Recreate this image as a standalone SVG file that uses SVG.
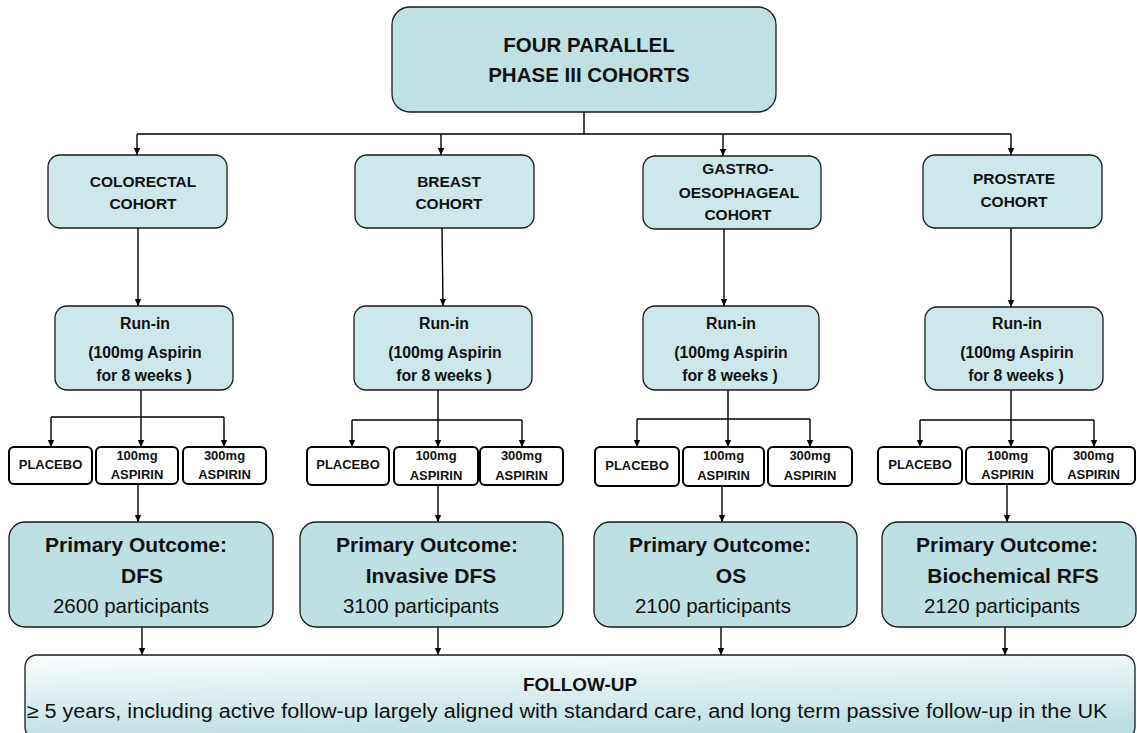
<svg xmlns="http://www.w3.org/2000/svg" width="1137" height="733" viewBox="0 0 1137 733">
<defs>
<marker id="ah" markerWidth="8" markerHeight="8" refX="7" refY="4" orient="auto" markerUnits="userSpaceOnUse">
<path d="M0,0.8 L7,4 L0,7.2 Z" fill="#000"/>
</marker>
<linearGradient id="fu" x1="0" y1="0" x2="0.2" y2="1">
<stop offset="0" stop-color="#fbfdfd"/>
<stop offset="1" stop-color="#bcdfe2"/>
</linearGradient>
<style>
.box{fill:#cce8ea;stroke:#1a1a1a;stroke-width:1.3}
.top{fill:#bfe1e4;stroke:#1a1a1a;stroke-width:1.3}
.prim{fill:#bde0e3;stroke:#1a1a1a;stroke-width:1.3}
.arm{fill:#fff;stroke:#000;stroke-width:2}
.fu{fill:url(#fu);stroke:#1a1a1a;stroke-width:1.3}
text{font-family:"Liberation Sans",Arial,Helvetica,sans-serif;fill:#111;text-anchor:middle}
.t1{font-size:20.5px;font-weight:bold}
.tc{font-size:15.5px;font-weight:bold}
.tr{font-size:15.8px;font-weight:bold}
.ta{font-size:13px;font-weight:bold}
.tp{font-size:21px;font-weight:bold}
.tn{font-size:20.5px}
.tf{font-size:18px;font-weight:bold}
.tl{font-size:20px}
.c{fill:none;stroke:#000;stroke-width:1.4}
.ca{fill:none;stroke:#000;stroke-width:1.4;marker-end:url(#ah)}
</style>
</defs>

<g id="connectors">
<path class="c" d="M584,112 V134 M137,134 H1011"/>
<path class="ca" d="M137,134 V155"/>
<path class="ca" d="M441,134 V155"/>
<path class="ca" d="M723,134 V156"/>
<path class="ca" d="M1011,134 V155"/>
<path class="ca" d="M138,228 V306"/>
<path class="c" d="M141,390 V417 M51,417 H224"/>
<path class="ca" d="M51,417 V447"/>
<path class="ca" d="M141,417 V447"/>
<path class="ca" d="M224,417 V447"/>
<path class="ca" d="M138,484 V522"/>
<path class="ca" d="M142,627 V655"/>
<path class="ca" d="M442,228 L443,306"/>
<path class="c" d="M438,390 V420 M352,420 H522"/>
<path class="ca" d="M352,420 V447"/>
<path class="ca" d="M438,420 V447"/>
<path class="ca" d="M522,420 V447"/>
<path class="ca" d="M438,485 V522"/>
<path class="ca" d="M438,627 V655"/>
<path class="ca" d="M724,229 V306"/>
<path class="c" d="M728,390 V419 M637,419 H810"/>
<path class="ca" d="M637,419 V447"/>
<path class="ca" d="M728,419 V447"/>
<path class="ca" d="M810,419 V447"/>
<path class="ca" d="M722,486 V522"/>
<path class="ca" d="M721,627 V655"/>
<path class="ca" d="M1011,228 V307"/>
<path class="c" d="M1011,390 V420 M920,420 H1094"/>
<path class="ca" d="M920,420 V447"/>
<path class="ca" d="M1011,420 V447"/>
<path class="ca" d="M1094,420 V447"/>
<path class="ca" d="M1007,484 V522"/>
<path class="ca" d="M1005,627 V655"/>
</g>

<g id="top">
<rect class="top" x="392" y="7" width="384" height="105" rx="18"/>
<text class="t1" x="589" y="52">FOUR PARALLEL</text>
<text class="t1" x="589" y="82">PHASE III COHORTS</text>
</g>

<g id="cohort-colorectal">
<rect class="box" x="48" y="155" width="179" height="73" rx="12"/>
<text class="tc" x="143" y="186.5">COLORECTAL</text>
<text class="tc" x="143" y="208.5">COHORT</text>
</g>
<g id="cohort-breast">
<rect class="box" x="355" y="155" width="179" height="73" rx="12"/>
<text class="tc" x="449" y="186.5">BREAST</text>
<text class="tc" x="449" y="208.5">COHORT</text>
</g>
<g id="cohort-gastro">
<rect class="box" x="643" y="156" width="178" height="73" rx="12"/>
<text class="tc" x="738" y="173.5">GASTRO-</text>
<text class="tc" x="739" y="197.5">OESOPHAGEAL</text>
<text class="tc" x="738" y="219.5">COHORT</text>
</g>
<g id="cohort-prostate">
<rect class="box" x="923" y="155" width="179" height="73" rx="12"/>
<text class="tc" x="1014" y="183.5">PROSTATE</text>
<text class="tc" x="1014" y="206.5">COHORT</text>
</g>

<g id="runin-1">
<rect class="box" x="55" y="306" width="178" height="84" rx="12"/>
<text class="tr" x="145" y="329">Run-in</text>
<text class="tr" x="145" y="358">(100mg Aspirin</text>
<text class="tr" x="144" y="381">for 8 weeks )</text>
</g>
<g id="runin-2">
<rect class="box" x="354" y="306" width="178" height="84" rx="12"/>
<text class="tr" x="444" y="329">Run-in</text>
<text class="tr" x="445" y="358">(100mg Aspirin</text>
<text class="tr" x="444" y="381">for 8 weeks )</text>
</g>
<g id="runin-3">
<rect class="box" x="643" y="306" width="176" height="84" rx="12"/>
<text class="tr" x="731" y="329">Run-in</text>
<text class="tr" x="731" y="358">(100mg Aspirin</text>
<text class="tr" x="730" y="381">for 8 weeks )</text>
</g>
<g id="runin-4">
<rect class="box" x="925" y="307" width="178" height="83" rx="12"/>
<text class="tr" x="1017" y="329">Run-in</text>
<text class="tr" x="1017" y="358">(100mg Aspirin</text>
<text class="tr" x="1016" y="381">for 8 weeks )</text>
</g>

<g id="arms-1">
<rect class="arm" x="9" y="447" width="83" height="37" rx="5"/>
<text class="ta" x="50.5" y="469">PLACEBO</text>
<rect class="arm" x="96" y="447" width="82" height="37" rx="5"/>
<text class="ta" x="137" y="460">100mg</text>
<text class="ta" x="137" y="479">ASPIRIN</text>
<rect class="arm" x="183" y="447" width="83" height="37" rx="5"/>
<text class="ta" x="224.5" y="460">300mg</text>
<text class="ta" x="224.5" y="479">ASPIRIN</text>
</g>
<g id="arms-2">
<rect class="arm" x="307" y="447" width="82" height="38" rx="5"/>
<text class="ta" x="348" y="469">PLACEBO</text>
<rect class="arm" x="394" y="447" width="84" height="38" rx="5"/>
<text class="ta" x="436" y="460">100mg</text>
<text class="ta" x="436" y="480">ASPIRIN</text>
<rect class="arm" x="480" y="447" width="83" height="38" rx="5"/>
<text class="ta" x="521.5" y="460">300mg</text>
<text class="ta" x="521.5" y="480">ASPIRIN</text>
</g>
<g id="arms-3">
<rect class="arm" x="595" y="447" width="84" height="39" rx="5"/>
<text class="ta" x="637" y="470">PLACEBO</text>
<rect class="arm" x="683" y="447" width="81" height="39" rx="5"/>
<text class="ta" x="723.5" y="460">100mg</text>
<text class="ta" x="723.5" y="480">ASPIRIN</text>
<rect class="arm" x="768" y="447" width="84" height="39" rx="5"/>
<text class="ta" x="810" y="460">300mg</text>
<text class="ta" x="810" y="480">ASPIRIN</text>
</g>
<g id="arms-4">
<rect class="arm" x="878" y="447" width="84" height="37" rx="5"/>
<text class="ta" x="920" y="469">PLACEBO</text>
<rect class="arm" x="966" y="447" width="83" height="37" rx="5"/>
<text class="ta" x="1007.5" y="460">100mg</text>
<text class="ta" x="1007.5" y="479">ASPIRIN</text>
<rect class="arm" x="1052" y="447" width="83" height="37" rx="5"/>
<text class="ta" x="1093.5" y="460">300mg</text>
<text class="ta" x="1093.5" y="479">ASPIRIN</text>
</g>

<g id="primary-1">
<rect class="prim" x="9" y="522" width="264" height="105" rx="16"/>
<text class="tp" x="136" y="552">Primary Outcome:</text>
<text class="tp" x="142" y="583">DFS</text>
<text class="tn" x="131" y="613">2600 participants</text>
</g>
<g id="primary-2">
<rect class="prim" x="300" y="522" width="263" height="105" rx="16"/>
<text class="tp" x="427" y="552">Primary Outcome:</text>
<text class="tp" x="431" y="583">Invasive DFS</text>
<text class="tn" x="421" y="613">3100 participants</text>
</g>
<g id="primary-3">
<rect class="prim" x="594" y="522" width="263" height="105" rx="16"/>
<text class="tp" x="720" y="552">Primary Outcome:</text>
<text class="tp" x="731" y="583">OS</text>
<text class="tn" x="713" y="613">2100 participants</text>
</g>
<g id="primary-4">
<rect class="prim" x="882" y="522" width="254" height="105" rx="16"/>
<text class="tp" x="1007" y="552">Primary Outcome:</text>
<text class="tp" x="1013" y="583">Biochemical RFS</text>
<text class="tn" x="1002" y="613">2120 participants</text>
</g>

<g id="followup">
<rect class="fu" x="25" y="655" width="1110" height="84" rx="12"/>
<text class="tf" x="580" y="691" textLength="114" lengthAdjust="spacingAndGlyphs">FOLLOW-UP</text>
<text class="tl" x="567" y="718" textLength="1081" lengthAdjust="spacingAndGlyphs">≥ 5 years, including active follow-up largely aligned with standard care, and long term passive follow-up in the UK</text>
</g>
</svg>
